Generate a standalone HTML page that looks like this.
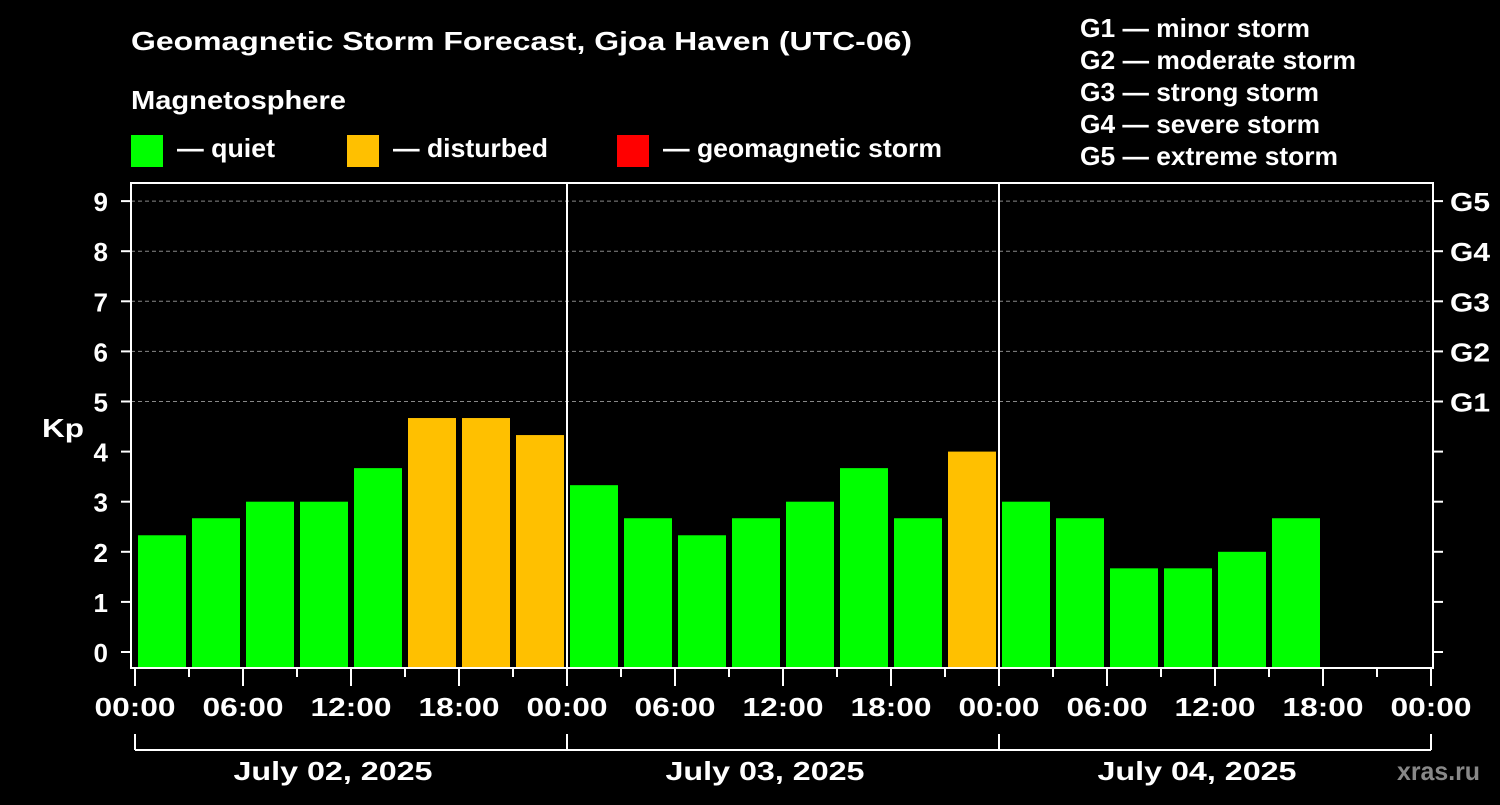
<!DOCTYPE html>
<html><head><meta charset="utf-8"><style>
body{margin:0;background:#000;}
svg text{font-family:"Liberation Sans",Arial,sans-serif;font-weight:bold;fill:#fff;}
</style></head><body>
<svg width="1500" height="800" xmlns="http://www.w3.org/2000/svg">
<rect width="1500" height="800" fill="#000"/>
<text x="131" y="50" font-size="26" textLength="781" lengthAdjust="spacingAndGlyphs">Geomagnetic Storm Forecast, Gjoa Haven (UTC-06)</text>
<text x="131" y="109" font-size="26" textLength="215" lengthAdjust="spacingAndGlyphs">Magnetosphere</text>
<g>
<rect x="131" y="135" width="32" height="32" fill="#00ff00"/>
<text x="177" y="157" font-size="26" textLength="98" lengthAdjust="spacingAndGlyphs">— quiet</text>
<rect x="347" y="135" width="32" height="32" fill="#ffc000"/>
<text x="393" y="157" font-size="26" textLength="155" lengthAdjust="spacingAndGlyphs">— disturbed</text>
<rect x="617" y="135" width="32" height="32" fill="#ff0000"/>
<text x="663" y="157" font-size="26" textLength="279" lengthAdjust="spacingAndGlyphs">— geomagnetic storm</text>
</g>
<g font-size="26">
<text x="1080" y="37" textLength="230" lengthAdjust="spacingAndGlyphs">G1 — minor storm</text>
<text x="1080" y="69" textLength="276" lengthAdjust="spacingAndGlyphs">G2 — moderate storm</text>
<text x="1080" y="101" textLength="239" lengthAdjust="spacingAndGlyphs">G3 — strong storm</text>
<text x="1080" y="133" textLength="240" lengthAdjust="spacingAndGlyphs">G4 — severe storm</text>
<text x="1080" y="165" textLength="258" lengthAdjust="spacingAndGlyphs">G5 — extreme storm</text>
</g>
<g id="plot"></g>
<text x="42" y="437" font-size="26" textLength="42" lengthAdjust="spacingAndGlyphs">Kp</text>
<text x="1397" y="780" font-size="26" textLength="83" lengthAdjust="spacingAndGlyphs" style="fill:#888">xras.ru</text>
</svg>
<script>
const kpValues = [2.33,2.67,3,3,3.67,4.67,4.67,4.33, 3.33,2.67,2.33,2.67,3,3.67,2.67,4, 3,2.67,1.67,1.67,2,2.67];
const dayLabels = ["July 02, 2025","July 03, 2025","July 04, 2025"];
const hourLabels = ["00:00","06:00","12:00","18:00"];
const gLabels = ["G1","G2","G3","G4","G5"];
const yTicks = [0,1,2,3,4,5,6,7,8,9];

(function(){
const NS="http://www.w3.org/2000/svg";
const g=document.getElementById('plot');
const x0=135, slotW=54, pLeft=131, pRight=1433, pTop=183, pBottom=668;
const yS=v=>652-v*50.1;
const xs=i=>x0+i*slotW;
function mk(tag,attrs){const e=document.createElementNS(NS,tag);for(const k in attrs)e.setAttribute(k,attrs[k]);g.appendChild(e);return e;}
yTicks.forEach(v=>{
  if(v>=5){const l=mk('line',{x1:pLeft,x2:pRight,y1:yS(v),y2:yS(v),stroke:'#888','stroke-dasharray':'4,3','stroke-width':1});
  
  }
  const t=mk('line',{x1:121,x2:pLeft,y1:yS(v),y2:yS(v),stroke:'#fff','stroke-width':2});
  
  
  const rt=mk('line',{x1:pRight,x2:1443,y1:yS(v),y2:yS(v),stroke:'#fff','stroke-width':2});
  
  
  const tx=mk('text',{x:108,y:yS(v)+10,'font-size':26,'text-anchor':'end'});
  tx.textContent=v;
  
  
  if(v>=5){const gt=mk('text',{x:1450,y:yS(v)+10,'font-size':26,textLength:40,lengthAdjust:'spacingAndGlyphs'});
  gt.textContent=gLabels[v-5];
  
  }
});
kpValues.forEach((v,i)=>{
  const r=mk('rect',{x:xs(i)+3,y:yS(v),width:48,height:pBottom-yS(v),fill:v>=5?'#ff0000':(v>=4?'#ffc000':'#00ff00')});
  
  
});
for(let d=1;d<3;d++){const l=mk('line',{x1:xs(d*8),x2:xs(d*8),y1:pTop,y2:pBottom,stroke:'#fff','stroke-width':2});

}
const fr=mk('rect',{x:pLeft,y:pTop,width:pRight-pLeft,height:pBottom-pTop,fill:'none',stroke:'#fff','stroke-width':2});


for(let i=0;i<=24;i++){
  const major=i%2===0;
  const t=mk('line',{x1:xs(i),x2:xs(i),y1:pBottom,y2:major?686:677,stroke:'#fff','stroke-width':2});
  
  
  if(major){const tx=mk('text',{x:xs(i),y:716,'font-size':26,'text-anchor':'middle',textLength:81,lengthAdjust:'spacingAndGlyphs'});
  tx.textContent=hourLabels[(i/2)%4];
  
  }
}
const bl=mk('line',{x1:xs(0),x2:xs(24),y1:750,y2:750,stroke:'#fff','stroke-width':2});


for(let d=0;d<=3;d++){const l=mk('line',{x1:xs(d*8),x2:xs(d*8),y1:734,y2:750,stroke:'#fff','stroke-width':2});

}
dayLabels.forEach((s,d)=>{const t=mk('text',{x:xs(d*8+4)-18,y:780,'font-size':26,'text-anchor':'middle',textLength:199,lengthAdjust:'spacingAndGlyphs'});
t.textContent=s;

});
})();
</script>
</body></html>
